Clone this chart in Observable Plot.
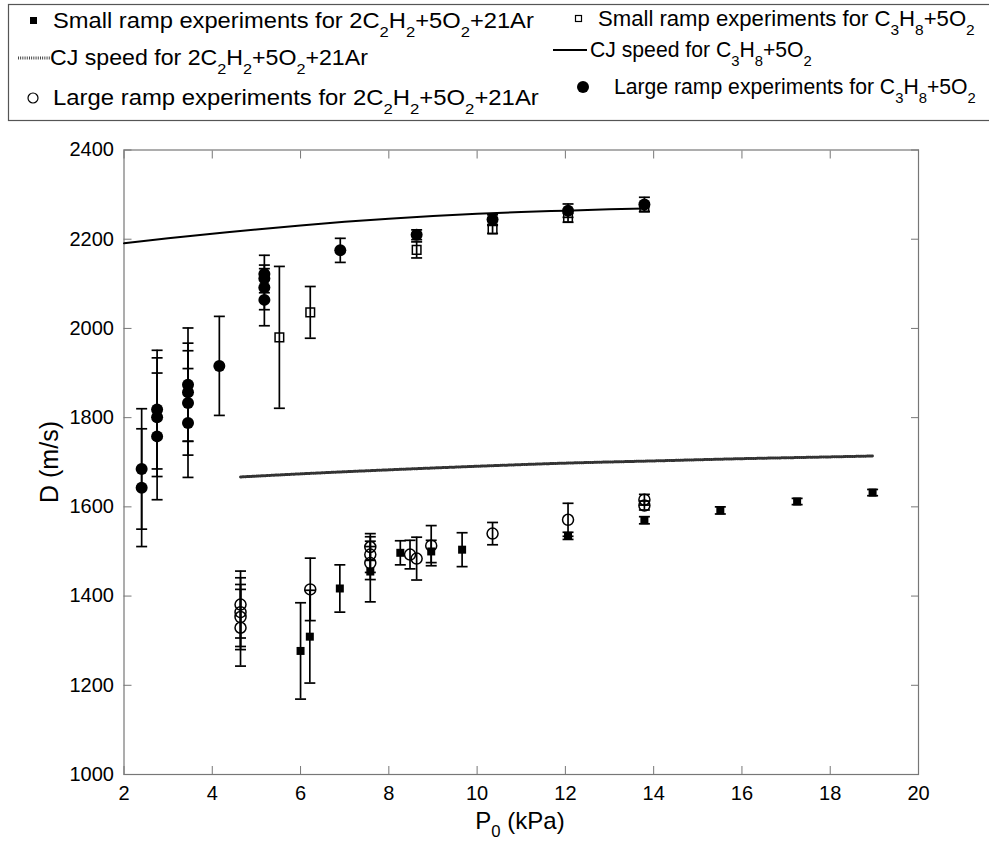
<!DOCTYPE html>
<html>
<head>
<meta charset="utf-8">
<script src="https://cdn.jsdelivr.net/npm/d3@7"></script>
<script src="https://cdn.jsdelivr.net/npm/@observablehq/plot@0.6"></script>
<style>
  html, body { margin: 0; padding: 0; background: #fff; }
  #wrap { position: relative; width: 989px; height: 844px; overflow: hidden; font-family: "Liberation Sans", Arial, sans-serif; }
  #wrap svg { position: absolute; left: 0; }
</style>
</head>
<body>
<div id="wrap"></div>
<script>
// ---------- DATA ----------
// Large ramp experiments for C3H8+5O2 (filled circles)
const lgC3_P = [2.40, 2.40, 2.75, 2.75, 2.75, 3.45, 3.45, 3.45, 3.45, 4.16, 5.18, 5.18, 5.18, 5.18, 6.90, 8.63, 10.35, 12.06, 13.79];
const lgC3_D = [1685, 1643, 1818, 1801, 1758, 1874, 1857, 1833, 1788, 1916, 2122, 2112, 2092, 2064, 2175, 2210, 2244, 2264, 2278];
const lgC3_E = [135, 132, 133, 133, 142, 127, 110, 117, 122, 111, 42, 22, 50, 58, 27, 11, 11, 15, 16];

// Small ramp experiments for C3H8+5O2 (open squares)
const smC3_P = [5.52, 6.22, 8.63, 10.35, 12.06, 13.79];
const smC3_D = [1980, 2036, 2176, 2222, 2248, 2272];
const smC3_E = [159, 58, 18, 9, 10, 10];

// Small ramp experiments for 2C2H2+5O2+21Ar (filled squares)
const smAr_P = [6.00, 6.21, 6.89, 7.58, 8.26, 8.96, 9.66, 12.06, 13.79, 15.51, 17.25, 18.96];
const smAr_D = [1277, 1309, 1417, 1455, 1497, 1500, 1504, 1535, 1570, 1592, 1612, 1632];
const smAr_E = [108, 104, 53, 68, 27, 25, 38, 8, 8, 8, 7, 7];

// Large ramp experiments for 2C2H2+5O2+21Ar (open circles)
const lgAr_P = [4.64, 4.64, 4.64, 4.64, 6.22, 7.58, 7.58, 7.58, 8.48, 8.63, 8.96, 10.35, 12.06, 13.79, 13.79];
const lgAr_D = [1381, 1364, 1353, 1329, 1415, 1510, 1493, 1474, 1493, 1484, 1513, 1540, 1571, 1616, 1603];
const lgAr_E = [75, 77, 73, 86, 70, 30, 40, 37, 32, 48, 45, 25, 37, 12, 10];

// CJ speed for C3H8+5O2 (solid line)
const cjC3_P = [2, 3, 4, 5, 6, 7, 8, 9, 10, 11, 12, 13, 13.8];
const cjC3_D = [2191, 2202, 2212, 2222, 2231, 2239, 2246, 2252, 2257, 2261, 2264, 2267, 2269];

// CJ speed for 2C2H2+5O2+21Ar (dotted line)
const cjAr_P = [4.64, 6, 8, 10, 12, 14, 16, 18, 18.96];
const cjAr_D = [1667, 1674, 1683, 1691, 1698, 1703, 1708, 1712, 1714];

const xTicks = [2, 4, 6, 8, 10, 12, 14, 16, 18, 20];
const yTicks = [1000, 1200, 1400, 1600, 1800, 2000, 2200, 2400];

// legend labels ("_x" = subscript x)
const legendLabels = [
  "Small ramp experiments for 2C_2H_2+5O_2+21Ar",
  "CJ speed for 2C_2H_2+5O_2+21Ar",
  "Large ramp experiments for 2C_2H_2+5O_2+21Ar",
  "Small ramp experiments for C_3H_8+5O_2",
  "CJ speed for C_3H_8+5O_2",
  "Large ramp experiments for C_3H_8+5O_2"
];

// ---------- helpers ----------
const rows = (P, D, E) => P.map((p, i) => ({p, d: D[i], lo: E ? D[i] - E[i] : null, hi: E ? D[i] + E[i] : null}));
const lgC3 = rows(lgC3_P, lgC3_D, lgC3_E);
const smC3 = rows(smC3_P, smC3_D, smC3_E);
const smAr = rows(smAr_P, smAr_D, smAr_E);
const lgAr = rows(lgAr_P, lgAr_D, lgAr_E);
const cjC3 = rows(cjC3_P, cjC3_D);
const cjAr = rows(cjAr_P, cjAr_D);

const capSym = { draw(ctx, size) { const r = Math.sqrt(size / Math.PI); ctx.moveTo(-r, 0); ctx.lineTo(r, 0); } };
const sqSym = { draw(ctx, size) { const r = Math.sqrt(size / Math.PI); ctx.rect(-r, -r, 2 * r, 2 * r); } };

const ebW = 1.7;
function errorBars(data) {
  return [
    Plot.ruleX(data, {x: "p", y1: "lo", y2: "hi", stroke: "black", strokeWidth: ebW}),
    Plot.dot(data, {x: "p", y: "lo", symbol: capSym, r: 5.5, stroke: "black", strokeWidth: ebW, fill: "none"}),
    Plot.dot(data, {x: "p", y: "hi", symbol: capSym, r: 5.5, stroke: "black", strokeWidth: ebW, fill: "none"})
  ];
}

const FONT = "Liberation Sans, Arial, Helvetica, sans-serif";
const axisStroke = "#777";
const fmt = d => String(d);

const chart = Plot.plot({
  width: 989,
  height: 714,
  marginTop: 19.5,
  marginBottom: 70,
  marginLeft: 123.5,
  marginRight: 71,
  style: {fontFamily: FONT, fontSize: "20px", background: "white", color: "black"},
  x: {domain: [2, 20], nice: false},
  y: {domain: [1000, 2400], nice: false},
  marks: [
    Plot.frame({stroke: axisStroke, strokeWidth: 1.2}),
    Plot.axisX({anchor: "bottom", ticks: xTicks, tickFormat: fmt, tickSize: -8, tickPadding: 19, fontSize: 20, stroke: axisStroke, label: null}),
    Plot.axisX({anchor: "top", ticks: xTicks, tickSize: -8, tickFormat: () => "", stroke: axisStroke, label: null}),
    Plot.axisY({anchor: "left", ticks: yTicks, tickFormat: fmt, tickSize: -8, tickPadding: 18, fontSize: 20, stroke: axisStroke, label: null}),
    Plot.axisY({anchor: "right", ticks: yTicks, tickSize: -8, tickFormat: () => "", stroke: axisStroke, label: null}),
    // CJ lines
    Plot.line(cjC3, {x: "p", y: "d", stroke: "black", strokeWidth: 2, curve: "monotone-x"}),
    Plot.line(cjAr, {x: "p", y: "d", stroke: "#333", strokeWidth: 3, strokeDasharray: "0.9,1.3", curve: "monotone-x"}),
    // error bars
    ...errorBars(lgC3),
    ...errorBars(smC3),
    ...errorBars(smAr),
    ...errorBars(lgAr),
    // markers
    Plot.dot(smC3, {x: "p", y: "d", symbol: sqSym, r: 4.3, stroke: "black", strokeWidth: 1.5, fill: "none"}),
    Plot.dot(lgC3, {x: "p", y: "d", symbol: "circle", r: 6, fill: "black", stroke: "none"}),
    Plot.dot(smAr, {x: "p", y: "d", symbol: sqSym, r: 4, fill: "black", stroke: "none"}),
    Plot.dot(lgAr, {x: "p", y: "d", symbol: "circle", r: 5.5, stroke: "black", strokeWidth: 1.5, fill: "none"})
  ]
});
chart.style.top = "130px";
document.getElementById("wrap").appendChild(chart);

// rich text with subscripts: "_x" = subscript x
function richText(sel, str, size, attrs, subOff = 0.42) {
  const t = sel.append("text").attr("font-size", size)
    .attr("font-family", FONT).attr("fill", "black");
  for (const k in attrs) t.attr(k, attrs[k]);
  const parts = str.split(/(_\w)/);
  let sub = false;
  const off = size * subOff;
  for (const p of parts) {
    if (!p) continue;
    if (p[0] === "_") {
      t.append("tspan").attr("font-size", size * 0.7).attr("dy", sub ? 0 : off).text(p[1]);
      sub = true;
    } else {
      const ts = t.append("tspan").text(p);
      if (sub) { ts.attr("dy", -off); sub = false; }
    }
  }
  return t;
}

// axis labels inside the plot svg
const svg = d3.select(chart);
richText(svg, "D (m/s)", 25, {"text-anchor": "middle", transform: "translate(58,332) rotate(-90)"});
richText(svg, "P_0 (kPa)", 24, {"text-anchor": "middle", x: 520, y: 699}, 0.35);

// ---------- legend ----------
const lg = d3.select("#wrap").append("svg").attr("width", 989).attr("height", 126).style("top", "0px");
lg.append("rect").attr("x", 8.5).attr("y", 4.5).attr("width", 1000).attr("height", 116)
  .attr("fill", "white").attr("stroke", "#555").attr("stroke-width", 1.2);
const LS = 22;
// place a legend label at (x, y) and scale it horizontally to the target width
function legendText(str, x, y, targetW) {
  const t = richText(lg, str, LS, {x: 0, y: 0});
  const w = t.node().getBBox().width;
  const sx = w > 0 ? targetW / w : 1;
  t.attr("transform", `translate(${x},${y}) scale(${sx.toFixed(4)},1)`);
  return t;
}
// col 1
lg.append("rect").attr("x", 30).attr("y", 17).attr("width", 7).attr("height", 7).attr("fill", "black");
legendText(legendLabels[0], 53, 28, 481);
lg.append("line").attr("x1", 18).attr("x2", 50).attr("y1", 58).attr("y2", 58)
  .attr("stroke", "#333").attr("stroke-width", 3).attr("stroke-dasharray", "0.9,1.3");
legendText(legendLabels[1], 50, 65, 318);
lg.append("circle").attr("cx", 33).attr("cy", 98).attr("r", 5).attr("fill", "none").attr("stroke", "black").attr("stroke-width", 1.2);
legendText(legendLabels[2], 53, 105, 486);
// col 2
lg.append("rect").attr("x", 575.5).attr("y", 15.5).attr("width", 6).attr("height", 6).attr("fill", "none").attr("stroke", "black").attr("stroke-width", 1.2);
legendText(legendLabels[3], 598, 26, 377);
lg.append("line").attr("x1", 553).attr("x2", 587).attr("y1", 50).attr("y2", 50)
  .attr("stroke", "black").attr("stroke-width", 2);
legendText(legendLabels[4], 590, 57, 222);
lg.append("circle").attr("cx", 583).attr("cy", 87).attr("r", 6).attr("fill", "black");
legendText(legendLabels[5], 614, 94, 362);
</script>
</body>
</html>
